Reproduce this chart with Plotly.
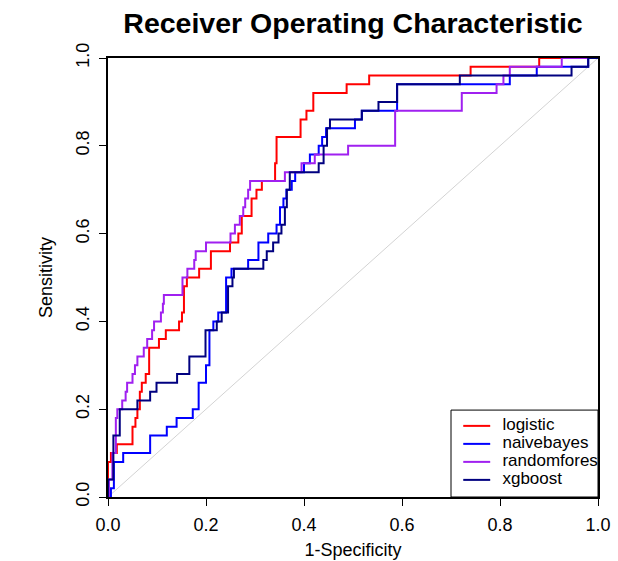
import plotly.graph_objects as go

# ROC step curves (corner points; drawn with "hv" steps)
logistic_fpr = [0, 0, 0.006, 0.018, 0.05, 0.056, 0.06, 0.065, 0.069, 0.077, 0.084, 0.104, 0.118, 0.145,
                0.151, 0.155, 0.161, 0.186, 0.21, 0.249, 0.266, 0.273, 0.293, 0.303, 0.314, 0.341, 0.344,
                0.393, 0.405, 0.419, 0.487, 0.533, 0.74, 0.88, 1.0]
logistic_tpr = [0, 0.08, 0.10, 0.12, 0.16, 0.18, 0.20, 0.24, 0.26, 0.28, 0.34, 0.36, 0.38, 0.40,
                0.42, 0.48, 0.50, 0.52, 0.56, 0.58, 0.60, 0.64, 0.68, 0.70, 0.72, 0.76, 0.82,
                0.86, 0.88, 0.92, 0.94, 0.96, 0.98, 1.0, 1.0]

naivebayes_fpr = [0, 0.006, 0.012, 0.031, 0.086, 0.12, 0.14, 0.173, 0.185, 0.20, 0.207, 0.215, 0.225,
                  0.241, 0.252, 0.286, 0.307, 0.327, 0.344, 0.351, 0.358, 0.364, 0.375, 0.382, 0.40,
                  0.412, 0.43, 0.437, 0.445, 0.504, 0.518, 0.59, 0.82, 0.875, 0.98, 1.0]
naivebayes_tpr = [0, 0.02, 0.08, 0.10, 0.14, 0.16, 0.18, 0.20, 0.26, 0.30, 0.38, 0.40, 0.42,
                  0.50, 0.52, 0.54, 0.58, 0.60, 0.62, 0.66, 0.68, 0.70, 0.72, 0.74, 0.76,
                  0.78, 0.80, 0.82, 0.84, 0.86, 0.88, 0.94, 0.96, 0.98, 1.0, 1.0]

randomforest_fpr = [0, 0.002, 0.009, 0.016, 0.019, 0.029, 0.036, 0.039, 0.05, 0.055, 0.06, 0.073, 0.08,
                    0.09, 0.094, 0.108, 0.112, 0.114, 0.152, 0.162, 0.176, 0.179, 0.20, 0.25, 0.259,
                    0.269, 0.276, 0.28, 0.286, 0.29, 0.361, 0.395, 0.422, 0.49, 0.586, 0.722, 0.793,
                    0.807, 0.82, 0.926, 1.0]
randomforest_tpr = [0, 0.04, 0.10, 0.18, 0.20, 0.22, 0.24, 0.26, 0.28, 0.30, 0.32, 0.34, 0.36,
                    0.38, 0.40, 0.42, 0.44, 0.46, 0.50, 0.52, 0.54, 0.56, 0.58, 0.60, 0.62,
                    0.64, 0.66, 0.68, 0.70, 0.72, 0.74, 0.76, 0.78, 0.80, 0.88, 0.92, 0.94,
                    0.96, 0.98, 1.0, 1.0]

xgboost_fpr = [0, 0, 0.011, 0.024, 0.06, 0.086, 0.099, 0.141, 0.166, 0.199, 0.222, 0.232, 0.245,
               0.254, 0.257, 0.317, 0.324, 0.337, 0.348, 0.354, 0.361, 0.365, 0.371, 0.43, 0.44,
               0.447, 0.453, 0.518, 0.552, 0.59, 0.718, 0.946, 0.98, 1.0]
xgboost_tpr = [0, 0.04, 0.14, 0.20, 0.22, 0.24, 0.26, 0.28, 0.32, 0.38, 0.40, 0.42, 0.48,
               0.50, 0.52, 0.54, 0.56, 0.58, 0.60, 0.62, 0.66, 0.70, 0.74, 0.76, 0.80,
               0.84, 0.86, 0.88, 0.90, 0.94, 0.96, 0.98, 1.0, 1.0]

models = ["logistic", "naivebayes", "randomforest", "xgboost"]
colors = ["#FF0000", "#0000FF", "#A020F0", "#000080"]
curves = [(logistic_fpr, logistic_tpr), (naivebayes_fpr, naivebayes_tpr),
          (randomforest_fpr, randomforest_tpr), (xgboost_fpr, xgboost_tpr)]

FONT = "Liberation Sans, Arial, sans-serif"

fig = go.Figure()

# chance diagonal
fig.add_trace(go.Scatter(x=[0, 1], y=[0, 1], mode="lines",
                         line=dict(color="#D3D3D3", width=1), showlegend=False, hoverinfo="skip"))

for name, col, (fx, ty) in zip(models, colors, curves):
    fig.add_trace(go.Scatter(x=fx, y=ty, mode="lines", name=name,
                             line=dict(color=col, width=2, shape="hv"), showlegend=False))

# custom legend (clipped to plot area like the original)
leg_x0, leg_x1, leg_y0, leg_y1 = 0.70, 1.0, 0.0, 0.198
fig.add_shape(type="rect", xref="x", yref="y", x0=leg_x0, x1=leg_x1, y0=leg_y0, y1=leg_y1,
              line=dict(color="black", width=1), fillcolor="white", layer="below")
leg_rows = [0.162, 0.121, 0.080, 0.039]
for col, ry in zip(colors, leg_rows):
    fig.add_shape(type="line", xref="x", yref="y", x0=0.725, x1=0.78, y0=ry, y1=ry,
                  line=dict(color=col, width=2))
fig.add_trace(go.Scatter(x=[0.805] * 4, y=leg_rows, mode="text", text=models,
                         textposition="middle right", cliponaxis=True,
                         textfont=dict(family=FONT, size=17, color="black"),
                         showlegend=False, hoverinfo="skip"))

axis_common = dict(range=[0, 1], showgrid=False, zeroline=False, showline=True, mirror=True,
                   linecolor="black", linewidth=2, ticks="outside", ticklen=7, tickwidth=1,
                   tickcolor="black", tickvals=[0, 0.2, 0.4, 0.6, 0.8, 1.0],
                   ticktext=["0.0", "0.2", "0.4", "0.6", "0.8", "1.0"],
                   ticklabelstandoff=3, automargin=False,
                   tickfont=dict(family=FONT, size=18, color="black"))

fig.update_layout(
    template="none",
    width=618, height=561,
    margin=dict(l=108, r=20, t=58, b=64, autoexpand=False),
    paper_bgcolor="white", plot_bgcolor="white",
    title=dict(text="<b>Receiver Operating Characteristic</b>", x=0.5, xref="paper",
               y=1 - 23 / 561, yref="container", yanchor="middle",
               font=dict(family=FONT, size=28.5, color="black")),
    xaxis=dict(**axis_common, title=dict(text="1-Specificity", standoff=10,
                                         font=dict(family=FONT, size=18, color="black"))),
    yaxis=dict(**axis_common, tickangle=-90,
               title=dict(text="Sensitivity", standoff=15,
                          font=dict(family=FONT, size=18, color="black"))),
)

fig.write_html("out.html")
